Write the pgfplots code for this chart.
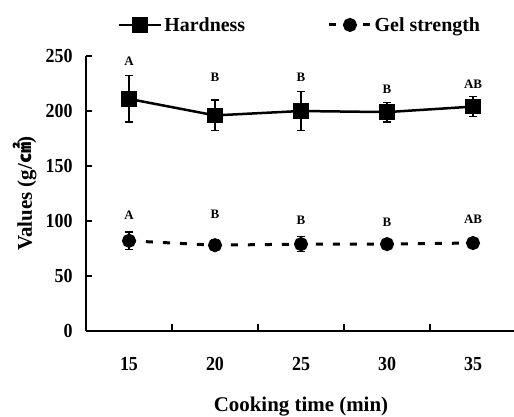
\documentclass[border=0pt]{standalone}
\usepackage{fontspec}
\setmainfont{Liberation Serif}
\newfontfamily\tickfont{Liberation Serif}[FakeStretch=0.9]
\newfontfamily\cjk{Noto Sans CJK KR}
\usepackage{pgfplots}
\pgfplotsset{compat=1.18}
\begin{document}
\begin{tikzpicture}[font=\bfseries]
\begin{axis}[
  scale only axis, width=430bp, height=275bp,
  xmin=0, xmax=5, ymin=0, ymax=250,
  axis x line*=bottom, axis y line*=left,
  axis line style={-, line width=1.8bp},
  every tick/.style={black, line width=1.5bp},
  tick align=inside,
  xtick={0.5,1.5,2.5,3.5,4.5}, xticklabels={15,20,25,30,35},
  major x tick style={draw=none},
  minor xtick={1,2,3,4}, minor tick length=7bp,
  ytick={0,50,100,150,200,250}, major tick length=6bp,
  /pgf/number format/assume math mode=true,
  tick label style={font=\fontsize{20}{20}\selectfont\tickfont\bfseries},
  xticklabel style={yshift=-23bp},
  yticklabel style={xshift=-10bp},
  xlabel={Cooking time (min)},
  ylabel={Values (g/{\cjk ㎠})},
  label style={font=\fontsize{21}{21}\selectfont\bfseries},
  xlabel style={at={(axis description cs:0.5,-0.276)}, anchor=center},
  ylabel style={at={(axis description cs:-0.142,0.5)}, anchor=center},
  legend style={draw=none, fill=none, at={(axis description cs:0.497,1.113)}, anchor=center,
    font=\fontsize{20}{20}\selectfont\bfseries,
    /tikz/every even column/.append style={column sep=80bp}},
  legend columns=2,
  legend image code/.code={\draw[mark repeat=2,mark phase=2] plot coordinates {(0cm,0cm)(0.75cm,0cm)(1.5cm,0cm)};},
  clip=false,
]
\addplot[black, line width=2.5bp, mark=square*, mark size=6.5bp, mark options={solid},
  error bars/.cd, y dir=both, y explicit, error mark options={rotate=90, mark size=4bp, line width=1.2bp},
  error bar style={line width=1.2bp}]
  table[x=x, y=y, y error=e] {
x   y    e
0.5 211 21
1.5 196 14
2.5 200 18
3.5 199 9
4.5 204 9
};
\addlegendentry{Hardness}
\addplot[black, line width=3bp, dash pattern=on 7bp off 10bp, mark=*, mark size=5.5bp, mark options={solid},
  error bars/.cd, y dir=both, y explicit, error mark options={rotate=90, mark size=4bp, line width=1.2bp, solid},
  error bar style={line width=1.2bp, solid}]
  table[x=x, y=y, y error=e] {
x   y    e
0.5 82 8
1.5 78 5
2.5 79 7
3.5 79 2
4.5 80 2
};
\addlegendentry{Gel strength}
\begin{scope}[font=\fontsize{13}{13}\selectfont\bfseries]
\node at (axis cs:0.5,245) {A};
\node at (axis cs:1.5,231) {B};
\node at (axis cs:2.5,231) {B};
\node at (axis cs:3.5,220) {B};
\node at (axis cs:4.5,224) {AB};
\node at (axis cs:0.5,105) {A};
\node at (axis cs:1.5,106) {B};
\node at (axis cs:2.5,101) {B};
\node at (axis cs:3.5,99) {B};
\node at (axis cs:4.5,102) {AB};
\end{scope}
\end{axis}
\pgfresetboundingbox
\path[use as bounding box] (-86bp,-86bp) rectangle (428bp,331bp);
\end{tikzpicture}
\end{document}
